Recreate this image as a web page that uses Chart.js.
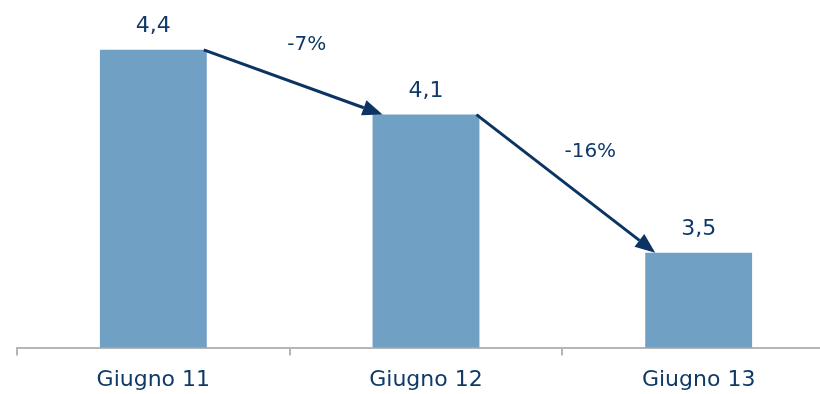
<!DOCTYPE html>
<html>
<head>
<meta charset="utf-8">
<script src="https://cdn.jsdelivr.net/npm/chart.js@4.4.0/dist/chart.umd.min.js"></script>
<style>
  html, body { margin: 0; padding: 0; background: #fff; overflow: hidden; }
  #wrap { width: 840px; height: 394px; position: relative; }
</style>
</head>
<body>
<div id="wrap"><canvas id="chart"></canvas></div>
<script>
// data
const categories = ["Giugno 11", "Giugno 12", "Giugno 13"];
const values = [4.42, 4.12, 3.48];
const changeLabels = ["-7%", "-16%"];

const barColor = "#71A0C5";
const textColor = "#0F3A68";
const arrowColor = "#0B3463";

// value labels above bars
const valueLabels = {
    id: "valueLabels",
    afterDatasetsDraw(chart) {
        const ctx = chart.ctx;
        const meta = chart.getDatasetMeta(0);
        ctx.save();
        ctx.font = "22px 'DejaVu Sans'";
        ctx.fillStyle = textColor;
        ctx.textAlign = "center";
        ctx.textBaseline = "alphabetic";
        meta.data.forEach((bar, i) => {
            ctx.fillText(values[i].toFixed(1).replace(".", ","), bar.x, bar.y - 18);
        });
        ctx.restore();
    }
};

// arrows between bars with % change
const changeArrows = {
    id: "changeArrows",
    afterDatasetsDraw(chart) {
        const ctx = chart.ctx;
        const meta = chart.getDatasetMeta(0);
        ctx.save();
        for (let i = 0; i < meta.data.length - 1; i++) {
            const a = meta.data[i], b = meta.data[i + 1];
            const x1 = a.x + a.width / 2 - 3, y1 = a.y;
            const x2 = b.x - b.width / 2 + 10, y2 = b.y;
            const len = Math.hypot(x2 - x1, y2 - y1);
            const ux = (x2 - x1) / len, uy = (y2 - y1) / len;
            const head = 20, half = 8;
            const bx = x2 - ux * head, by = y2 - uy * head;

            ctx.strokeStyle = arrowColor;
            ctx.fillStyle = arrowColor;
            ctx.lineWidth = 3;
            ctx.beginPath();
            ctx.moveTo(x1, y1);
            ctx.lineTo(bx, by);
            ctx.stroke();

            ctx.beginPath();
            ctx.moveTo(x2, y2);
            ctx.lineTo(bx - uy * half, by + ux * half);
            ctx.lineTo(bx + uy * half, by - ux * half);
            ctx.closePath();
            ctx.fill();

            // label above the middle of the arrow
            const mx = (x1 + x2) / 2, my = (y1 + y2) / 2;
            ctx.font = "20px 'DejaVu Sans'";
            ctx.fillStyle = textColor;
            ctx.textAlign = "center";
            ctx.textBaseline = "middle";
            ctx.fillText(changeLabels[i], mx + uy * 40, my - ux * 40);
        }
        ctx.restore();
    }
};

new Chart(document.getElementById("chart"), {
    type: "bar",
    data: {
        labels: categories,
        datasets: [{
            data: values,
            backgroundColor: barColor,
            borderWidth: 0,
            categoryPercentage: 1,
            barPercentage: 0.392
        }]
    },
    options: {
        responsive: true,
        maintainAspectRatio: false,
        animation: false,
        layout: {
            padding: { top: 11, left: 17, right: 5, bottom: -10 }
        },
        scales: {
            x: {
                offset: true,
                grid: {
                    offset: true,
                    drawOnChartArea: false,
                    drawTicks: true,
                    tickLength: 8,
                    color: "#B5B5B5",
                    lineWidth: 2
                },
                border: { display: true, color: "#B5B5B5", width: 2 },
                ticks: {
                    color: textColor,
                    font: { family: "'DejaVu Sans'", size: 22 },
                    padding: 11
                }
            },
            y: {
                display: false,
                min: 3.04,
                max: 4.6
            }
        },
        plugins: {
            legend: { display: false },
            tooltip: { enabled: false }
        }
    },
    plugins: [valueLabels, changeArrows]
});
</script>
</body>
</html>
